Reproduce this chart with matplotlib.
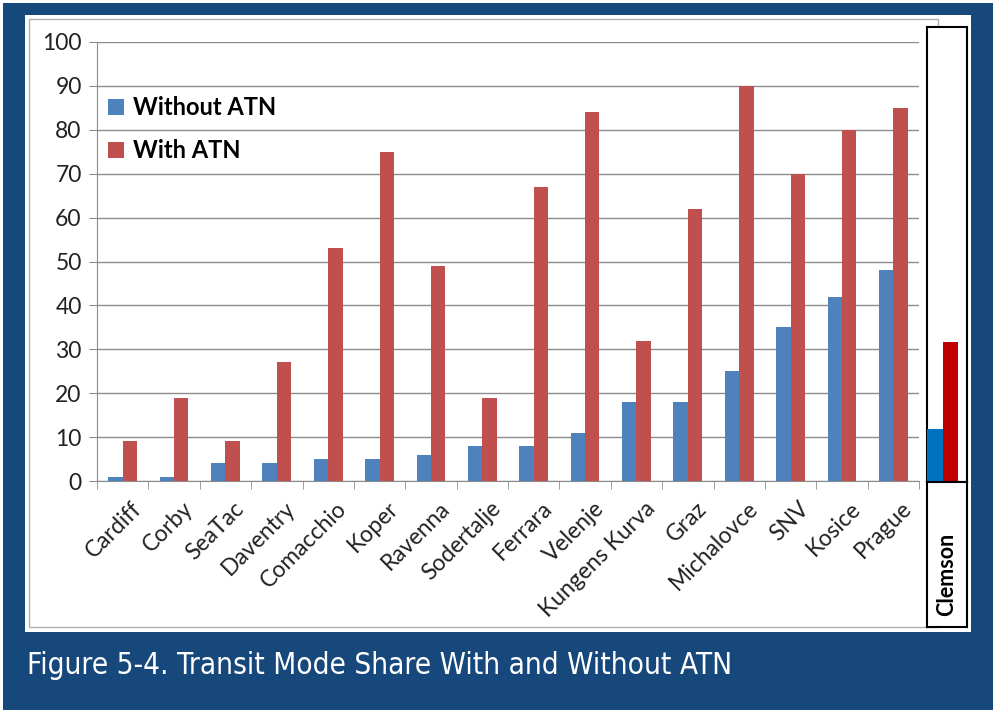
import matplotlib.pyplot as plt
from matplotlib.patches import Rectangle
import matplotlib.transforms as mtransforms

cities = ["Cardiff", "Corby", "SeaTac", "Daventry", "Comacchio", "Koper", "Ravenna",
          "Sodertalje", "Ferrara", "Velenje", "Kungens Kurva", "Graz", "Michalovce",
          "SNV", "Kosice", "Prague"]
without_atn = [1, 1, 4, 4, 5, 5, 6, 8, 8, 11, 18, 18, 25, 35, 42, 48]
with_atn = [9, 19, 9, 27, 53, 75, 49, 19, 67, 84, 32, 62, 90, 70, 80, 85]

clemson_without = 12
clemson_with = 32

W, H = 996, 713
BG = '#17487c'

def box(x0, y0, x1, y1):
    # pixel box (top-left origin) -> figure fraction rect
    return [x0 / W, 1 - y1 / H, (x1 - x0) / W, (y1 - y0) / H]

fig = plt.figure(figsize=(9.96, 7.13), dpi=100)
fig.patch.set_facecolor('white')

# blue frame, white panel, thin gray chart border
fig.patches.append(Rectangle((3 / W, 3 / H), 990 / W, 707 / H, transform=fig.transFigure,
                             facecolor=BG, edgecolor='none', zorder=-10))
r = box(25, 15, 971, 632)
fig.patches.append(Rectangle((r[0], r[1]), r[2], r[3], transform=fig.transFigure,
                             facecolor='white', edgecolor='none', zorder=-9))
r = box(29, 19, 938, 627)
fig.patches.append(Rectangle((r[0], r[1]), r[2], r[3], transform=fig.transFigure,
                             facecolor='none', edgecolor='#b0b0b0', lw=1, zorder=-8))

font = 'Lato'
ax = fig.add_axes(box(97, 42, 919, 481))
ax.set_facecolor('none')
x = list(range(len(cities)))
bw = 0.28
ax.bar([i - bw / 2 for i in x], without_atn, width=bw, color='#4f81bd', label='Without ATN', zorder=3)
ax.bar([i + bw / 2 for i in x], with_atn, width=bw, color='#c0504d', label='With ATN', zorder=3)
ax.set_xlim(-0.5, len(cities) - 0.5)
ax.set_ylim(0, 100)
ax.set_yticks(range(0, 101, 10))
ax.yaxis.grid(True, color='#8c8c8c', lw=1)
ax.set_axisbelow(True)
for s in ['top', 'right']:
    ax.spines[s].set_visible(False)
for s in ['left', 'bottom']:
    ax.spines[s].set_color('#8c8c8c')
ax.tick_params(axis='y', length=6, color='#8c8c8c', labelsize=16.5, pad=5)
ax.set_xticks(x)
ax.set_xticklabels(cities, rotation=45, ha='right', rotation_mode='anchor', fontsize=16.5, family=font)
ax.set_xticks([i + 0.5 for i in range(-1, len(cities))], minor=True)
ax.tick_params(axis='x', which='major', length=0, pad=12)
ax.tick_params(axis='x', which='minor', length=6, color='#8c8c8c')
offset = mtransforms.ScaledTranslation(8 / 100, 0, fig.dpi_scale_trans)
for lab in ax.get_xticklabels():
    lab.set_transform(lab.get_transform() + offset)
    lab.set_color('#222222')
for lab in ax.get_yticklabels():
    lab.set_family(font)
    lab.set_color('#222222')

leg = ax.legend(loc='upper left', bbox_to_anchor=(-0.007, 0.914), frameon=False,
                prop={'family': font, 'weight': 'bold', 'size': 17},
                handlelength=0.7, handleheight=0.7, handletextpad=0.35, labelspacing=0.85,
                borderaxespad=0.3)

# Clemson side panel
axc = fig.add_axes(box(927, 27, 967, 482))
axc.set_xlim(0, 1)
axc.set_ylim(0, 455 / 4.39)
axc.bar(0, clemson_without, width=0.4, align='edge', color='#0070c0', zorder=3)
axc.bar(0.4, clemson_with, width=0.38, align='edge', color='#c00000', zorder=3)
axc.set_xticks([])
axc.set_yticks([])
for s in axc.spines.values():
    s.set_color('black')
    s.set_linewidth(1.5)

axl = fig.add_axes(box(927, 482, 967, 627))
axl.set_xticks([])
axl.set_yticks([])
for s in axl.spines.values():
    s.set_color('black')
    s.set_linewidth(1.5)
axl.text(0.5, 0.36, 'Clemson', rotation=90, ha='center', va='center', transform=axl.transAxes,
         fontsize=15.5, family=font, weight='bold')

fig.text(27 / W, 1 - 666 / H, 'Figure 5-4. Transit Mode Share With and Without ATN',
         color='white', fontsize=21.3, family='DejaVu Sans', stretch='condensed', va='center', ha='left')

fig.savefig('out.png', dpi=100, facecolor=fig.get_facecolor())
